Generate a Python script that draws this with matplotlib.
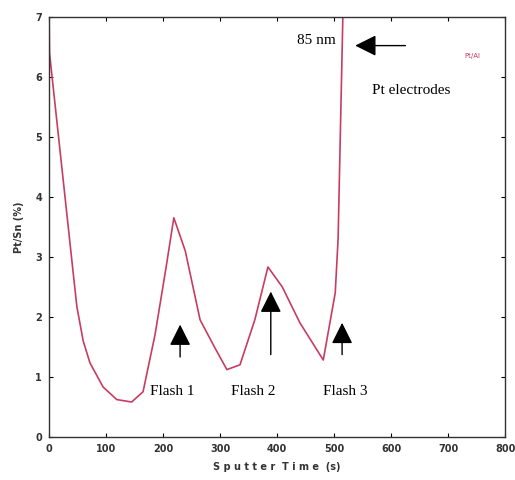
import matplotlib
matplotlib.use('Agg')
import matplotlib.pyplot as plt

# Pt/Sn depth profile
time_s = [0, 1, 42, 49, 60, 72, 95, 119, 145, 165, 186, 205, 219,
          239, 265, 290, 312, 335, 361, 384, 409, 440, 481, 502, 507, 516]
pt_sn = [7.3, 6.4, 2.78, 2.17, 1.6, 1.23, 0.83, 0.62, 0.58, 0.75,
         1.7, 2.8, 3.65, 3.1, 1.95, 1.5, 1.12, 1.2, 1.95, 2.83, 2.5, 1.9,
         1.28, 2.4, 3.3, 7.3]

flash_labels = ['Flash 1', 'Flash 2', 'Flash 3']
flash_label_x = [177, 319, 481]
flash_arrow_x = [230, 389, 514]
flash_arrow_top = [1.87, 2.42, 1.9]
flash_arrow_bottom = [1.33, 1.37, 1.37]

serif = ['Liberation Serif', 'DejaVu Serif']
head = '-|>,head_width=0.65,head_length=1.3'

fig = plt.figure(figsize=(5.15, 4.8), dpi=100)
ax = fig.add_axes([0.095, 0.09, 0.886, 0.875])

ax.plot(time_s, pt_sn, color='#c83c64', lw=1.2, clip_on=True)

ax.set_xlim(0, 800)
ax.set_ylim(0, 7)
ax.set_xticks(range(0, 801, 100))
ax.set_yticks(range(0, 8))
ax.tick_params(direction='in', top=True, right=True, length=3, width=0.8,
               labelsize=7, pad=5)
for lab in ax.get_xticklabels() + ax.get_yticklabels():
    lab.set_fontweight('bold')
    lab.set_color('#333333')
for sp in ax.spines.values():
    sp.set_linewidth(1.0)
    sp.set_color('#333333')

ax.set_xlabel('S p u t t e r  T i m e  (s)', fontsize=7, fontweight='bold',
              color='#333333', labelpad=6)
ax.set_ylabel('Pt/Sn (%)', fontsize=7, fontweight='bold', color='#333333',
              labelpad=8)

# flash arrows and labels
for lbl, lx, axx, top, bot in zip(flash_labels, flash_label_x, flash_arrow_x,
                                  flash_arrow_top, flash_arrow_bottom):
    ax.annotate('', xy=(axx, top), xytext=(axx, bot),
                arrowprops=dict(arrowstyle=head, color='black', lw=1.0,
                                shrinkA=0, shrinkB=0))
    ax.text(lx, 0.75, lbl, fontsize=11, family=serif, ha='left', va='center')

# 85 nm arrow
ax.annotate('', xy=(537, 6.52), xytext=(625, 6.52),
            arrowprops=dict(arrowstyle=head, color='black', lw=1.0,
                            shrinkA=0, shrinkB=0))
ax.text(503, 6.6, '85 nm', fontsize=11, family=serif, ha='right', va='center')
ax.text(567, 5.78, 'Pt electrodes', fontsize=11, family=serif, ha='left',
        va='center')
ax.text(742, 6.35, 'Pt/Al', fontsize=5, color='#c83c64', ha='center',
        va='center')

fig.savefig('out.png', dpi=100)
